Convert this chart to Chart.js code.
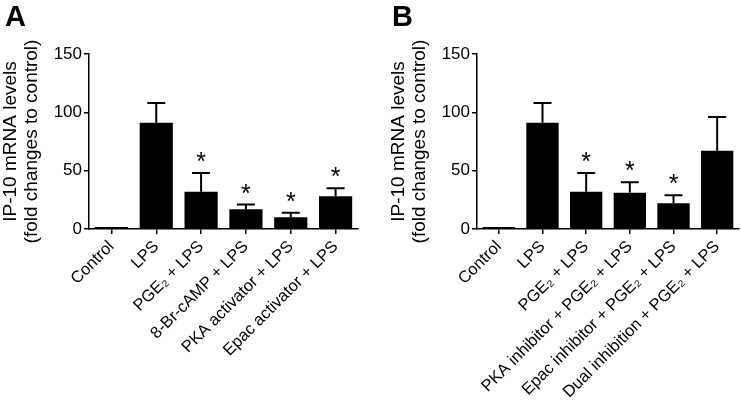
<!DOCTYPE html>
<html>
<head>
<meta charset="utf-8">
<script src="https://cdn.jsdelivr.net/npm/chart.js@4/dist/chart.umd.min.js"></script>
<style>
  body { margin: 0; background: #fff; }
  #wrap { position: relative; width: 741px; height: 405px; overflow: hidden; }
  .panel { position: absolute; top: 0; height: 405px; }
  .letter { position: absolute; top: 0; font: bold 29px "Liberation Sans", Arial, sans-serif; color: #000; }
</style>
</head>
<body>
<div id="wrap">
  <div class="panel" style="left:0;width:370px"><canvas id="chartA"></canvas></div>
  <div class="panel" style="left:388px;width:353px"><canvas id="chartB"></canvas></div>
  <div class="letter" style="left:5px">A</div>
  <div class="letter" style="left:392px">B</div>
</div>
<script>
// panel A
const labelsA = ['Control', 'LPS', 'PGE₂ + LPS', '8-Br-cAMP + LPS', 'PKA activator + LPS', 'Epac activator + LPS'];
const meanA = [1, 91, 32, 17, 10, 28];
const errA = [0, 108, 48, 21, 14, 35];
const starA = [false, false, true, true, true, true];

// panel B
const labelsB = ['Control', 'LPS', 'PGE₂ + LPS', 'PKA inhibitor + PGE₂ + LPS', 'Epac inhibitor + PGE₂ + LPS', 'Dual inhibition + PGE₂ + LPS'];
const meanB = [1, 91, 32, 31, 22, 67];
const errB = [0, 108, 48, 40, 29, 96];
const starB = [false, false, true, true, true, false];

const yTicks = [0, 50, 100, 150];
const FONT = '"Liberation Sans", Arial, sans-serif';

// upper error bars and asterisks
const errorBars = {
  id: 'errorBars',
  afterDatasetsDraw(chart, args, opts) {
    const ctx = chart.ctx;
    const y = chart.scales.y;
    const bars = chart.getDatasetMeta(0).data;
    ctx.save();
    ctx.strokeStyle = '#000';
    ctx.lineWidth = 2;
    ctx.fillStyle = '#000';
    ctx.font = '25px ' + FONT;
    ctx.textAlign = 'center';
    ctx.textBaseline = 'alphabetic';
    bars.forEach((bar, i) => {
      const top = y.getPixelForValue(opts.err[i]);
      if (opts.err[i] > 0) {
        ctx.beginPath();
        ctx.moveTo(bar.x, bar.y);
        ctx.lineTo(bar.x, top);
        ctx.moveTo(bar.x - 9, top);
        ctx.lineTo(bar.x + 9, top);
        ctx.stroke();
      }
      if (opts.star[i]) {
        ctx.fillText('*', bar.x, top - 3);
      }
    });
    ctx.restore();
  }
};

function makeChart(id, labels, mean, err, star, rightPad) {
  return new Chart(document.getElementById(id), {
    type: 'bar',
    data: {
      labels: labels,
      datasets: [{
        data: mean,
        backgroundColor: '#000',
        barPercentage: 0.74,
        categoryPercentage: 1,
        minBarLength: 2
      }]
    },
    options: {
      responsive: true,
      maintainAspectRatio: false,
      animation: false,
      layout: { padding: { top: 54, right: rightPad, left: 0, bottom: 0 } },
      plugins: {
        legend: { display: false },
        tooltip: { enabled: false },
        errorBars: { err: err, star: star }
      },
      scales: {
        x: {
          grid: { display: true, drawOnChartArea: false, offset: false, tickLength: 5, color: '#000', lineWidth: 1.5 },
          border: { color: '#000', width: 1.5 },
          ticks: {
            autoSkip: false, maxRotation: 45, minRotation: 45, padding: 3,
            color: '#000', font: { family: FONT, size: 16.5 }
          },
          afterFit: s => { s.height = 176; }
        },
        y: {
          min: 0, max: 150,
          afterBuildTicks: s => { s.ticks = yTicks.map(v => ({ value: v })); },
          grid: { display: true, drawOnChartArea: false, tickLength: 5, color: '#000', lineWidth: 1.5 },
          border: { color: '#000', width: 1.5 },
          ticks: { padding: 2, color: '#000', font: { family: FONT, size: 17 } },
          title: {
            display: true,
            text: ['IP-10 mRNA levels', '(fold changes to control)'],
            color: '#000',
            font: { family: FONT, size: 19, lineHeight: 1.1 },
            padding: { top: 0, bottom: 0 }
          },
          afterFit: s => { s.width = 89; }
        }
      }
    },
    plugins: [errorBars]
  });
}

makeChart('chartA', labelsA, meanA, errA, starA, 12);
makeChart('chartB', labelsB, meanB, errB, starB, 2);
</script>
</body>
</html>
